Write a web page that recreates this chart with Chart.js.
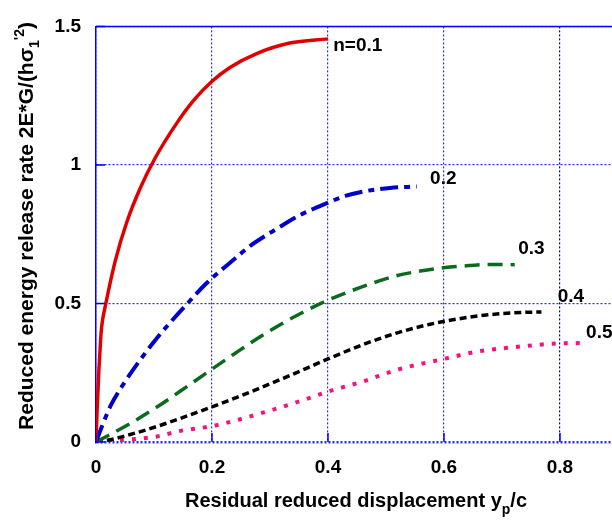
<!DOCTYPE html>
<html>
<head>
<meta charset="utf-8">
<script src="https://cdn.jsdelivr.net/npm/chart.js@4/dist/chart.umd.min.js"></script>
<style>
html, body { margin: 0; padding: 0; background: #fff; overflow: hidden; }
#wrap { width: 612px; height: 521px; }
</style>
</head>
<body>
<div id="wrap"><canvas id="chart" width="612" height="521"></canvas></div>
<script>
/* data */
const xTicks = [0, 0.2, 0.4, 0.6, 0.8];
const yTicks = [0, 0.5, 1, 1.5];

// n = 0.1
const n1x = [0, 0.002, 0.005, 0.008, 0.010, 0.017, 0.033, 0.053, 0.076, 0.102, 0.139, 0.168, 0.2, 0.231, 0.277, 0.334, 0.4];
const n1y = [0, 0.12, 0.26, 0.37, 0.42, 0.50, 0.652, 0.793, 0.915, 1.025, 1.15, 1.232, 1.302, 1.352, 1.402, 1.44, 1.455];
// n = 0.2
const n2x = [0, 0.01, 0.025, 0.047, 0.1, 0.153, 0.19, 0.231, 0.27, 0.312, 0.35, 0.392, 0.43, 0.461, 0.507, 0.553];
const n2y = [0, 0.055, 0.13, 0.208, 0.362, 0.489, 0.572, 0.647, 0.714, 0.77, 0.817, 0.857, 0.888, 0.904, 0.917, 0.922];
// n = 0.3
const n3x = [0, 0.018, 0.064, 0.105, 0.145, 0.2, 0.237, 0.283, 0.323, 0.363, 0.4, 0.467, 0.518, 0.559, 0.599, 0.645, 0.679, 0.722];
const n3y = [0, 0.02, 0.073, 0.126, 0.183, 0.263, 0.316, 0.38, 0.43, 0.475, 0.512, 0.566, 0.6, 0.617, 0.629, 0.637, 0.641, 0.64];
// n = 0.4
const n4x = [0, 0.024, 0.064, 0.105, 0.145, 0.2, 0.243, 0.283, 0.323, 0.363, 0.4, 0.461, 0.518, 0.576, 0.645, 0.691, 0.737, 0.768];
const n4y = [0, 0.008, 0.03, 0.056, 0.085, 0.127, 0.161, 0.195, 0.23, 0.266, 0.3, 0.352, 0.393, 0.425, 0.451, 0.462, 0.468, 0.469];
// n = 0.5
const n5x = [0, 0.013, 0.064, 0.105, 0.145, 0.202, 0.243, 0.283, 0.323, 0.363, 0.4, 0.461, 0.518, 0.602, 0.662, 0.72, 0.8, 0.843];
const n5y = [0, 0.003, 0.01, 0.02, 0.04, 0.058, 0.079, 0.103, 0.128, 0.155, 0.182, 0.219, 0.26, 0.301, 0.328, 0.342, 0.356, 0.357];

const curveNames = ["n=0.1", "0.2", "0.3", "0.4", "0.5"];
// where each curve's name sits (data units, left / baseline)
const nameX = [0.409, 0.576, 0.728, 0.796, 0.845];
const nameY = [1.41, 0.932, 0.679, 0.507, 0.377];

const FONT = "'Liberation Sans', Arial, sans-serif";

function pts(xs, ys) {
    return xs.map((x, i) => ({ x: x, y: ys[i] }));
}

function line(label, xs, ys, color, width, dash) {
    return {
        label: label,
        data: pts(xs, ys),
        borderColor: color,
        borderWidth: width,
        borderDash: dash,
        borderCapStyle: 'butt',
        showLine: true,
        pointRadius: 0,
        cubicInterpolationMode: 'monotone',
        fill: false
    };
}

/* draws text made of pieces, some sub/superscript */
function richText(ctx, parts, cx, cy, rot) {
    ctx.save();
    ctx.translate(cx, cy);
    ctx.rotate(rot);
    ctx.textAlign = 'left';
    ctx.textBaseline = 'alphabetic';
    ctx.fillStyle = '#000';
    let total = 0;
    parts.forEach(p => { ctx.font = p.f; p.w = ctx.measureText(p.t).width; total += p.w; });
    let x = -total / 2;
    parts.forEach(p => { ctx.font = p.f; ctx.fillText(p.t, x, p.dy); x += p.w; });
    ctx.restore();
}

const xBig = "bold 20px " + FONT;
const yBig = "bold 21px " + FONT;
const small = "bold 14px " + FONT;

const decor = {
    id: 'decor',
    afterDatasetsDraw(chart) {
        const ctx = chart.ctx;
        const a = chart.chartArea;
        const xs = chart.scales.x, ys = chart.scales.y;
        ctx.save();
        // solid top frame
        ctx.strokeStyle = '#0000ff';
        ctx.lineWidth = 1.5;
        ctx.beginPath();
        ctx.moveTo(a.left, a.top);
        ctx.lineTo(a.right, a.top);
        ctx.stroke();
        // short inner ticks
        ctx.beginPath();
        yTicks.forEach(v => {
            const py = ys.getPixelForValue(v);
            ctx.moveTo(a.left, py);
            ctx.lineTo(a.left + 9, py);
        });
        xTicks.forEach(v => {
            const px = xs.getPixelForValue(v);
            ctx.moveTo(px, a.bottom);
            ctx.lineTo(px, a.bottom - 9);
        });
        ctx.stroke();
        // curve names
        ctx.fillStyle = '#000';
        ctx.font = "bold 19px " + FONT;
        ctx.textAlign = 'left';
        ctx.textBaseline = 'alphabetic';
        curveNames.forEach((t, i) => {
            ctx.fillText(t, xs.getPixelForValue(nameX[i]), ys.getPixelForValue(nameY[i]));
        });
        ctx.restore();
    },
    afterDraw(chart) {
        const ctx = chart.ctx;
        richText(ctx, [
            { t: "Residual reduced displacement y", f: xBig, dy: 0 },
            { t: "p", f: small, dy: 7 },
            { t: "/c", f: xBig, dy: 0 }
        ], 356, 507, 0);
        richText(ctx, [
            { t: "Reduced energy release rate 2E*G/(h\u03c3", f: yBig, dy: 0 },
            { t: "1", f: small, dy: 6 },
            { t: "'2", f: small, dy: -9 },
            { t: ")", f: yBig, dy: 0 }
        ], 33, 226, -Math.PI / 2);
    }
};

const gridColor = '#2a2aff';

new Chart(document.getElementById('chart'), {
    type: 'scatter',
    data: {
        datasets: [
            line("n=0.1", n1x, n1y, '#e10000', 3.5, []),
            line("n=0.2", n2x, n2y, '#0000cc', 4, [18, 6, 6, 6]),
            line("n=0.3", n3x, n3y, '#0b6a1c', 3.5, [15, 8]),
            line("n=0.4", n4x, n4y, '#000000', 3.5, [7, 4]),
            line("n=0.5", n5x, n5y, '#f5127f', 4, [4, 8])
        ]
    },
    options: {
        responsive: false,
        animation: false,
        layout: { padding: { top: 15, right: 0, left: 0, bottom: 0 } },
        plugins: {
            legend: { display: false },
            tooltip: { enabled: false }
        },
        scales: {
            x: {
                type: 'linear',
                min: 0,
                max: 0.8897,
                afterBuildTicks: s => { s.ticks = xTicks.map(v => ({ value: v })); },
                afterFit: s => { s.height = 79; },
                grid: {
                    color: c => (c.tick && c.tick.value === 0.8 ? '#0000cc' : gridColor),
                    lineWidth: 1.2,
                    drawTicks: false
                },
                border: { display: false, dash: [2, 2] },
                ticks: {
                    padding: 14,
                    color: '#000',
                    font: { family: FONT, size: 19, weight: 'bold' },
                    maxRotation: 0,
                    callback: v => String(v)
                }
            },
            y: {
                type: 'linear',
                min: 0,
                max: 1.5,
                afterBuildTicks: s => { s.ticks = yTicks.map(v => ({ value: v })); },
                afterFit: s => { s.width = 96; },
                grid: {
                    color: gridColor,
                    lineWidth: c => (c.tick && c.tick.value === 0 ? 2.5 : 1.2),
                    drawTicks: false
                },
                border: { display: true, color: '#0000ff', width: 1.5, dash: [2, 2] },
                ticks: {
                    padding: 15,
                    color: '#000',
                    font: { family: FONT, size: 19, weight: 'bold' },
                    callback: v => String(v)
                }
            }
        }
    },
    plugins: [decor]
});
</script>
</body>
</html>
